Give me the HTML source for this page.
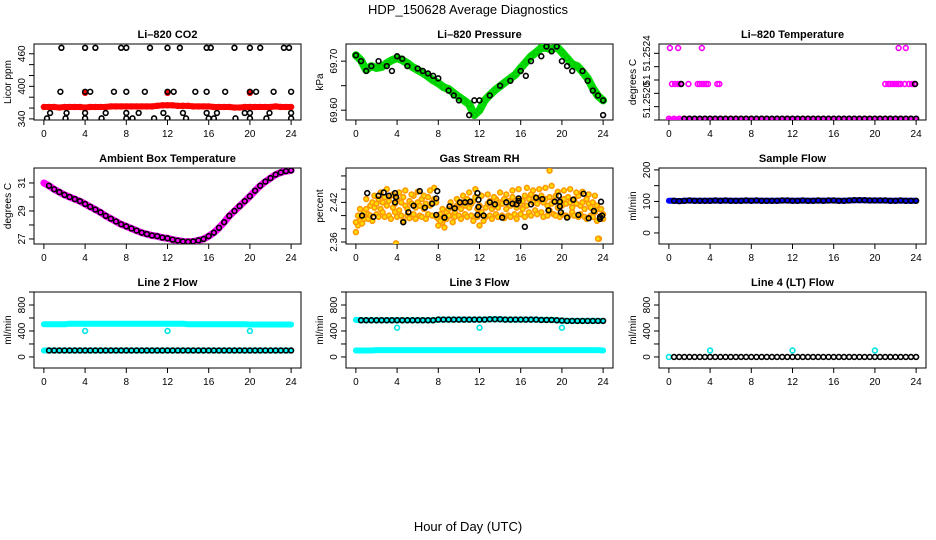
<!DOCTYPE html>
<html><head><meta charset="utf-8">
<style>
html,body{margin:0;padding:0;background:#fff;}
svg{display:block;font-family:"Liberation Sans",sans-serif;}
</style></head>
<body>
<svg id="chart" width="936" height="540" viewBox="0 0 936 540" xmlns="http://www.w3.org/2000/svg">
<rect width="936" height="540" fill="#fff"/>
<text x="468" y="14" text-anchor="middle" font-size="13">HDP_150628  Average Diagnostics</text>
<text x="468" y="531" text-anchor="middle" font-size="13">Hour of Day (UTC)</text>
</svg>
<script>
const halfHours=[0,0.5,1,1.5,2,2.5,3,3.5,4,4.5,5,5.5,6,6.5,7,7.5,8,8.5,9,9.5,10,10.5,11,11.5,12,12.5,13,13.5,14,14.5,15,15.5,16,16.5,17,17.5,18,18.5,19,19.5,20,20.5,21,21.5,22,22.5,23,23.5,24];
const xTicks=[0,4,8,12,16,20,24];
const co2Red=[362,362,362,361,362,362,362,362,361,362,362,362,362,363,363,363,363,363,363,363,363,363,364,365,365,365,364,364,364,363,363,363,363,362,362,362,362,361,361,362,362,362,362,362,362,363,362,362,362];
const co2RedOutHours=[4,12,20];
const co2RedOutVals=[388,388,388];
const co2BlackHours=[1.7,4.0,5.0,7.5,8.0,10.3,12.0,13.2,15.8,16.2,18.5,20.0,21.0,23.3,23.8,
1.6,4.0,4.5,6.8,8.0,9.8,12.0,12.6,14.7,15.8,17.6,20.0,20.6,22.3,24.0,
0.6,2.2,4.0,6.0,8.0,9.2,11.6,13.5,15.8,16.8,19.5,20.0,21.9,24.0,
0.3,2.1,4.0,5.6,8.0,8.6,10.7,12.0,13.8,16.0,16.5,18.6,20.0,21.6,24.0];
const co2BlackVals=[471,471,471,471,471,471,471,471,471,471,471,471,471,471,471,
390,390,390,390,390,390,390,390,390,390,390,390,390,390,390,
351,351,351,351,351,351,351,351,351,351,351,351,351,351,
341,341,341,341,341,341,341,341,341,341,341,341,341,341,341];
const pressureGreen=[69.712,69.702,69.682,69.690,69.686,69.688,69.696,69.702,69.706,69.702,69.696,69.688,69.682,69.676,69.669,69.661,69.655,69.647,69.643,69.635,69.627,69.620,69.612,69.590,69.600,69.620,69.631,69.641,69.649,69.657,69.665,69.673,69.686,69.698,69.710,69.718,69.727,69.727,69.724,69.729,69.718,69.706,69.694,69.690,69.678,69.665,69.645,69.629,69.620];
const pressureBlackHours=[0,0.5,1,1.5,2.2,3,3.5,4,4.5,5,6,6.5,7,7.5,8,9,9.5,10,11,11.5,12,13,14,15,16,16.5,17,18,18.5,19,19.5,20,20.5,21,22,22.5,23,23.5,24,24];
const pressureBlackVals=[69.712,69.70,69.68,69.69,69.70,69.69,69.68,69.71,69.705,69.69,69.685,69.68,69.675,69.67,69.665,69.64,69.63,69.62,69.59,69.62,69.62,69.63,69.65,69.66,69.68,69.67,69.70,69.71,69.73,69.72,69.73,69.70,69.69,69.68,69.68,69.66,69.64,69.63,69.62,69.59];
const tempLow=[51.25191,51.25191,51.25191,51.25191,51.25191,51.25191,51.25191,51.25191,51.25191,51.25191,51.25191,51.25191,51.25191,51.25191,51.25191,51.25191,51.25191,51.25191,51.25191,51.25191,51.25191,51.25191,51.25191,51.25191,51.25191,51.25191,51.25191,51.25191,51.25191,51.25191,51.25191,51.25191,51.25191,51.25191,51.25191,51.25191,51.25191,51.25191,51.25191,51.25191,51.25191,51.25191,51.25191,51.25191,51.25191,51.25191,51.25191,51.25191,51.25191];
const tempMidHours=[0.3,0.6,0.9,1.1,1.9,2.8,3.0,3.2,3.4,3.6,3.8,4.7,4.9,21.0,21.3,21.5,21.7,21.9,22.1,22.3,22.5,22.9,23.3,23.6,23.8];
const tempMidVals=[51.25217,51.25217,51.25217,51.25217,51.25217,51.25217,51.25217,51.25217,51.25217,51.25217,51.25217,51.25217,51.25217,51.25217,51.25217,51.25217,51.25217,51.25217,51.25217,51.25217,51.25217,51.25217,51.25217,51.25217,51.25217];
const tempTopHours=[0.1,0.9,3.2,22.3,23.0];
const tempTopVals=[51.25244,51.25244,51.25244,51.25244,51.25244];
const tempBlackMidHours=[1.2,23.9];
const tempBlackMidVals=[51.25217,51.25217];
const ambient=[31.0,30.8,30.55,30.35,30.15,30.0,29.85,29.7,29.5,29.3,29.1,28.9,28.65,28.45,28.25,28.05,27.9,27.75,27.6,27.45,27.35,27.25,27.2,27.1,27.05,26.95,26.88,26.82,26.8,26.82,26.9,27.0,27.2,27.45,27.8,28.2,28.65,29.0,29.35,29.7,30.05,30.45,30.8,31.1,31.35,31.6,31.75,31.85,31.9];
const rhA=[2.375,2.385,2.392,2.398,2.405,2.410,2.402,2.415,2.420,2.412,2.418,2.425,2.410,2.420,2.428,2.415,2.422,2.430,2.412,2.418,2.425,2.408,2.420,2.428,2.415,2.410,2.422,2.418,2.430,2.412,2.420,2.415,2.425,2.410,2.418,2.428,2.415,2.420,2.425,2.398,2.395,2.402,2.390,2.398,2.405,2.410,2.400,2.412,2.405,2.415,2.418,2.410,2.420,2.415,2.425,2.412,2.418,2.422,2.428,2.410,2.415,2.405,2.400,2.412,2.418,2.422,2.410,2.415,2.425,2.412,2.420,2.418,2.425,2.410,2.422,2.415,2.428,2.420,2.412,2.425,2.418,2.422,2.430,2.415,2.425,2.432,2.420,2.428,2.418,2.425,2.430,2.420,2.425,2.415,2.428,2.418,2.422,2.430,2.412,2.420,2.415,2.425,2.418,2.428,2.420,2.412,2.425,2.418,2.430,2.415,2.420,2.410,2.425,2.418,2.412,2.420,2.405,2.415,2.410,2.400,2.402];
const rhB=[2.390,2.400,2.410,2.388,2.395,2.425,2.395,2.400,2.392,2.430,2.402,2.398,2.435,2.405,2.398,2.440,2.400,2.395,2.432,2.405,2.398,2.435,2.400,2.392,2.438,2.400,2.396,2.432,2.402,2.395,2.436,2.400,2.398,2.430,2.395,2.402,2.438,2.400,2.442,2.420,2.385,2.392,2.410,2.382,2.395,2.400,2.420,2.390,2.398,2.425,2.400,2.395,2.430,2.402,2.398,2.435,2.400,2.392,2.440,2.398,2.385,2.430,2.392,2.398,2.432,2.400,2.395,2.428,2.402,2.398,2.435,2.400,2.396,2.432,2.400,2.398,2.438,2.402,2.395,2.440,2.402,2.410,2.398,2.442,2.405,2.400,2.438,2.408,2.402,2.440,2.405,2.398,2.442,2.400,2.408,2.445,2.402,2.400,2.436,2.398,2.402,2.438,2.400,2.398,2.440,2.405,2.400,2.435,2.398,2.402,2.436,2.398,2.395,2.432,2.400,2.398,2.430,2.392,2.365,2.410,2.395];
const rhOutHours=[3.9,18.8,23.5];
const rhOutVals=[2.358,2.468,2.365];
const rhBlackHours=[0.6,1.1,1.7,2.2,2.7,3.2,3.8,3.9,3.8,4.6,5.1,5.6,6.2,6.7,7.4,7.8,7.9,7.8,8.6,9.1,9.6,10.1,10.6,11.1,11.8,11.9,11.8,11.9,12.4,13.0,13.5,14.2,14.6,15.2,15.6,15.8,15.8,16.4,17.0,17.5,18.1,18.7,19.3,19.7,19.8,19.8,19.9,20.5,21.1,21.6,22.1,22.6,23.1,23.7,23.7,23.9,23.8];
const rhBlackVals=[2.400,2.434,2.398,2.430,2.435,2.430,2.434,2.428,2.420,2.390,2.405,2.415,2.437,2.412,2.418,2.401,2.437,2.426,2.397,2.414,2.411,2.420,2.420,2.421,2.401,2.413,2.434,2.424,2.400,2.420,2.417,2.397,2.420,2.418,2.417,2.426,2.422,2.383,2.417,2.427,2.425,2.408,2.421,2.430,2.421,2.414,2.405,2.397,2.424,2.401,2.433,2.396,2.407,2.398,2.395,2.400,2.421];
const sampleFlow=[102,102,101,102,103,102,102,102,102,103,102,103,102,102,102,103,102,103,102,102,102,102,103,103,102,102,103,102,102,103,102,103,103,102,102,103,104,104,104,103,103,103,103,102,102,103,102,102,102];
const line2High=[505,505,505,505,505,510,510,510,510,510,510,510,510,510,510,510,510,510,510,510,510,510,510,510,510,510,510,510,505,505,505,505,505,505,505,505,505,505,505,505,500,500,500,500,500,500,500,500,500];
const line2Low=[100,100,100,100,100,100,100,100,100,100,100,100,100,100,100,100,100,100,100,100,100,100,100,100,100,100,100,100,100,100,100,100,100,100,100,100,100,100,100,100,100,100,100,100,100,100,100,100,100];
const line2OutHours=[4,12,20];
const line2OutVals=[400,400,400];
const line3High=[570,565,565,565,565,565,565,565,565,565,565,565,565,565,565,565,575,575,575,575,575,575,575,575,575,575,580,580,580,575,575,575,575,575,575,575,570,570,570,565,560,555,555,555,555,555,555,555,555];
const line3Low=[100,100,100,100,105,105,105,105,105,105,105,105,105,105,105,105,105,105,105,105,105,105,105,105,105,105,105,105,105,105,105,105,105,105,105,105,105,105,105,105,105,105,105,105,105,105,105,105,100];
const line3OutHours=[4,12,20];
const line3OutVals=[450,450,450];
const line4Zero=[0,0,0,0,0,0,0,0,0,0,0,0,0,0,0,0,0,0,0,0,0,0,0,0,0,0,0,0,0,0,0,0,0,0,0,0,0,0,0,0,0,0,0,0,0,0,0,0,0];
const line4OutHours=[4,12,20];
const line4OutVals=[100,100,100];

const NS="http://www.w3.org/2000/svg";
const svg=document.getElementById('chart');
function el(tag,attrs,parent){const e=document.createElementNS(NS,tag);for(const k in attrs)e.setAttribute(k,attrs[k]);(parent||svg).appendChild(e);return e;}

function panel(name,title,left,top,ylim,yTicks,yLabelVals,yLabelText,ylab){
  const w=267,h=76;
  const g=el('g',{});
  
  
  const sx=v=>left+(v+0.96)/25.92*w;
  const sy=v=>top+(ylim[1]-v)/(ylim[1]-ylim[0])*h;
  const t=el('text',{x:left+w/2,y:top-6,'text-anchor':'middle','font-size':11,'font-weight':'bold'},g);
  t.textContent=title;
  
  
  const fr=el('rect',{x:left,y:top,width:w,height:h,fill:'none',stroke:'#000','stroke-width':1},g);
  
  
  const xa=el('g',{},g);
  
  
  el('line',{x1:sx(xTicks[0]),x2:sx(xTicks[xTicks.length-1]),y1:top+h,y2:top+h,stroke:'#000'},xa);
  xTicks.forEach(v=>{
    el('line',{x1:sx(v),x2:sx(v),y1:top+h,y2:top+h+5,stroke:'#000'},xa);
    const l=el('text',{x:sx(v),y:top+h+17,'text-anchor':'middle','font-size':10},xa);
    l.textContent=v;
    
    
  });
  const ya=el('g',{},g);
  
  
  el('line',{x1:left,x2:left,y1:sy(yTicks[0]),y2:sy(yTicks[yTicks.length-1]),stroke:'#000'},ya);
  yTicks.forEach(v=>{el('line',{x1:left-5,x2:left,y1:sy(v),y2:sy(v),stroke:'#000'},ya);});
  yLabelVals.forEach((v,i)=>{
    const l=el('text',{x:0,y:0,'text-anchor':'middle','font-size':10,transform:`translate(${left-9},${sy(v)}) rotate(-90)`},ya);
    l.textContent=yLabelText[i];
    
    
  });
  const yt=el('text',{x:0,y:0,'text-anchor':'middle','font-size':10,transform:`translate(${left-23},${top+h/2}) rotate(-90)`},g);
  yt.textContent=ylab;
  
  
  const clipId=name+'-clip';
  const cp=el('clipPath',{id:clipId},g);
  el('rect',{x:left,y:top,width:w,height:h},cp);
  const marks=el('g',{'clip-path':`url(#${clipId})`},g);
  
  
  return {sx,sy,marks};
}
function band(p,hours,vals,color,width,name){
  const pts=hours.map((hh,i)=>p.sx(hh).toFixed(1)+','+p.sy(vals[i]).toFixed(1)).join(' ');
  const l=el('polyline',{points:pts,fill:'none',stroke:color,'stroke-width':width,'stroke-linejoin':'round','stroke-linecap':'round'},p.marks);
  
  
}
function pts(p,hours,vals,color,name,fill,r){
  const g=el('g',{},p.marks);
  
  
  hours.forEach((hh,i)=>{
    const c=el('circle',{cx:p.sx(hh),cy:p.sy(vals[i]),r:r||2.4,fill:fill||'none',stroke:color,'stroke-width':1.6},g);
    
    
  });
}
const C1=34,C2=346,C3=659,R1=44,R2=168,R3=292;

// CO2
let p=panel('li820-co2','Li\u2013820 CO2',C1,R1,[338,478],[340,360,380,400,420,440,460],[340,400,460],['340','400','460'],'Licor ppm');
band(p,halfHours,co2Red,'#ff0000',6,'co2-red-band');
pts(p,halfHours,co2Red,'#ff0000','co2-red-series');
pts(p,co2RedOutHours,co2RedOutVals,'#ff0000','co2-red-outliers','#ff0000');
pts(p,co2BlackHours,co2BlackVals,'#000','co2-black-series');

// Pressure
p=panel('li820-pressure','Li\u2013820 Pressure',C2,R1,[69.58,69.735],[69.60,69.65,69.70],[69.60,69.70],['69.60','69.70'],'kPa');
band(p,halfHours,pressureGreen,'#00dd00',8,'pressure-green-band');
pts(p,halfHours,pressureGreen,'#00cc00','pressure-green-series');
pts(p,pressureBlackHours,pressureBlackVals,'#000','pressure-black-series');

// Temperature
p=panel('li820-temperature','Li\u2013820 Temperature',C3,R1,[51.25190,51.25247],[51.2519,51.2520,51.2521,51.2522,51.2523,51.2524],[51.25205,51.2522,51.2524],['51.2520','51','51.2524'],'degrees C');
band(p,halfHours,tempLow,'#ff00ff',3,'temp-magenta-low-band');
pts(p,halfHours,tempLow,'#ff00ff','temp-magenta-low');
pts(p,tempMidHours,tempMidVals,'#ff00ff','temp-magenta-mid');
pts(p,tempTopHours,tempTopVals,'#ff00ff','temp-magenta-top');
pts(p,halfHours.slice(3),tempLow.slice(3),'#000','temp-black-low');
pts(p,tempBlackMidHours,tempBlackMidVals,'#000','temp-black-mid');

// Ambient
p=panel('ambient-box-temperature','Ambient Box Temperature',C1,R2,[26.64,32.07],[27,28,29,30,31],[27,29,31],['27','29','31'],'degrees C');
band(p,halfHours,ambient,'#ff00ff',7,'ambient-magenta-band');
pts(p,halfHours.slice(1),ambient.slice(1),'#000','ambient-black-series');

// RH
p=panel('gas-stream-rh','Gas Stream RH',C2,R2,[2.357,2.472],[2.36,2.38,2.40,2.42,2.44,2.46],[2.36,2.42],['2.36','2.42'],'percent');
const rhHours=rhA.map((_,i)=>i*0.2);
pts(p,rhHours,rhA,'#ff9900','rh-orange-a','#ffdd00');
pts(p,rhHours,rhB,'#ff9900','rh-orange-b','#ffdd00');
pts(p,rhOutHours,rhOutVals,'#ff9900','rh-orange-outliers','#ffdd00');
pts(p,rhBlackHours,rhBlackVals,'#000','rh-black-series');

// Sample flow
p=panel('sample-flow','Sample Flow',C3,R2,[-35,206],[0,50,100,150,200],[0,100,200],['0','100','200'],'ml/min');
band(p,halfHours,sampleFlow,'#0000ff',6,'sample-flow-blue-band');
pts(p,halfHours.slice(1),sampleFlow.slice(1),'#000','sample-flow-black-series');

// Line 2
p=panel('line2-flow','Line 2 Flow',C1,R3,[-170,1000],[0,200,400,600,800,1000],[0,400,800],['0','400','800'],'ml/min');
band(p,halfHours,line2High,'#00ffff',6,'line2-cyan-high-band');
band(p,halfHours,line2Low,'#00ffff',6,'line2-cyan-low-band');
pts(p,line2OutHours,line2OutVals,'#00e5e5','line2-cyan-outliers');
pts(p,halfHours.slice(1),line2Low.slice(1),'#000','line2-black-series');

// Line 3
p=panel('line3-flow','Line 3 Flow',C2,R3,[-170,1000],[0,200,400,600,800,1000],[0,400,800],['0','400','800'],'ml/min');
band(p,halfHours,line3High,'#00ffff',6,'line3-cyan-high-band');
band(p,halfHours,line3Low,'#00ffff',6,'line3-cyan-low-band');
pts(p,line3OutHours,line3OutVals,'#00e5e5','line3-cyan-outliers');
pts(p,halfHours.slice(1),line3High.slice(1),'#000','line3-black-series');

// Line 4
p=panel('line4-flow','Line 4 (LT) Flow',C3,R3,[-170,1000],[0,200,400,600,800,1000],[0,400,800],['0','400','800'],'ml/min');
pts(p,[0],[line4Zero[0]],'#00e5e5','line4-cyan-start');
pts(p,line4OutHours,line4OutVals,'#00e5e5','line4-cyan-outliers');
pts(p,halfHours.slice(1),line4Zero.slice(1),'#000','line4-black-series');
</script>
</body></html>
